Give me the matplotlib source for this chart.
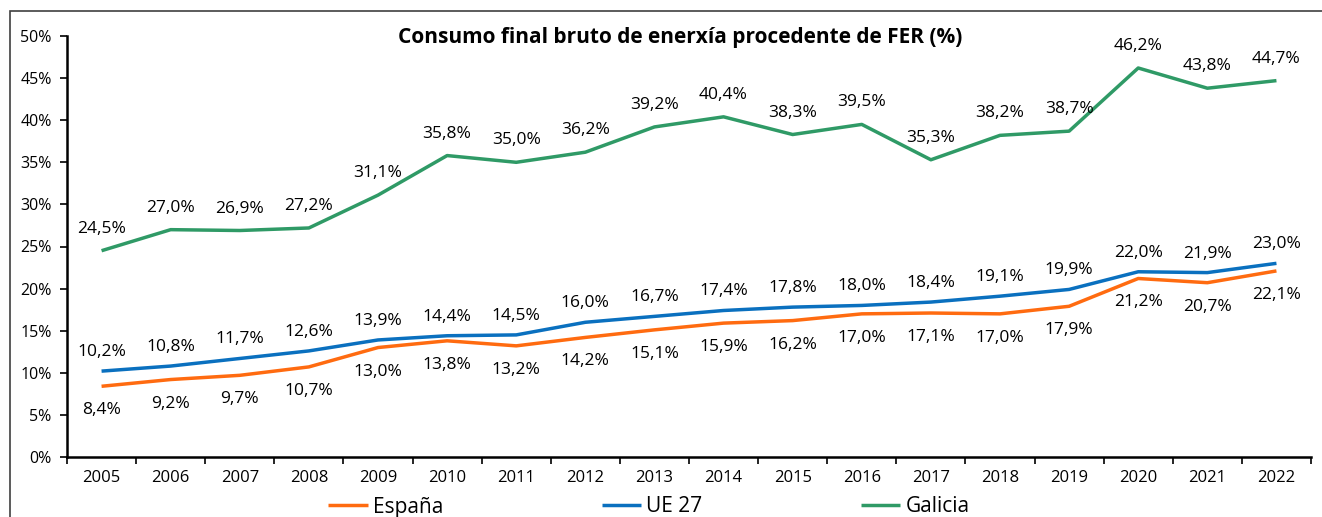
import matplotlib
matplotlib.use("Agg")
from matplotlib import pyplot as plt
from matplotlib.patches import Rectangle
import numpy as np

plt.rcParams['font.family'] = ['Open Sans', 'DejaVu Sans']

# ---- data ----
years = [str(y) for y in range(2005, 2023)]
espana = [8.4, 9.2, 9.7, 10.7, 13.0, 13.8, 13.2, 14.2, 15.1, 15.9,
          16.2, 17.0, 17.1, 17.0, 17.9, 21.2, 20.7, 22.1]
ue27 = [10.2, 10.8, 11.7, 12.6, 13.9, 14.4, 14.5, 16.0, 16.7, 17.4,
        17.8, 18.0, 18.4, 19.1, 19.9, 22.0, 21.9, 23.0]
galicia = [24.5, 27.0, 26.9, 27.2, 31.1, 35.8, 35.0, 36.2, 39.2, 40.4,
           38.3, 39.5, 35.3, 38.2, 38.7, 46.2, 43.8, 44.7]

c_esp = '#FF6B10'
c_ue = '#0A70BF'
c_gal = '#2F9A66'

W, H = 1322, 517
fig = plt.figure(figsize=(W / 100, H / 100), dpi=100)
ax = fig.add_axes([67 / W, 1 - 457 / H, (1311 - 67) / W, (457 - 36) / H])

x = np.arange(len(years))
ax.plot(x, espana, color=c_esp, lw=2.5, label='España', solid_capstyle='butt')
ax.plot(x, ue27, color=c_ue, lw=2.5, label='UE 27', solid_capstyle='butt')
ax.plot(x, galicia, color=c_gal, lw=2.5, label='Galicia', solid_capstyle='butt')

def fmt(v):
    return f"{v:.1f}%".replace('.', ',')

lab_size = 12.5
for i in x:
    ax.annotate(fmt(ue27[i]), (i, ue27[i]), xytext=(0, 19), textcoords='offset pixels',
                ha='center', va='center', fontsize=lab_size)
    ax.annotate(fmt(espana[i]), (i, espana[i]), xytext=(0, -24), textcoords='offset pixels',
                ha='center', va='center', fontsize=lab_size)
    ax.annotate(fmt(galicia[i]), (i, galicia[i]), xytext=(0, 22), textcoords='offset pixels',
                ha='center', va='center', fontsize=lab_size)

ax.set_xlim(-0.5, len(years) - 0.5)
ax.set_ylim(0, 50)
ax.set_yticks(np.arange(0, 51, 5))
ax.set_yticklabels([f"{v}%" for v in range(0, 51, 5)], fontsize=11.5)
ax.set_xticks(x)
ax.set_xticklabels(years, fontsize=12)
ax.tick_params(axis='x', which='major', length=0, pad=9)
ax.set_xticks(np.arange(-0.5, len(years)), minor=True)
ax.tick_params(axis='x', which='minor', length=5, width=1.2, direction='out')
ax.tick_params(axis='y', length=5, width=1.2, direction='out', pad=6)

for s in ['top', 'right']:
    ax.spines[s].set_visible(False)
for s in ['left', 'bottom']:
    ax.spines[s].set_linewidth(1.8)
    ax.spines[s].set_color('black')

fig.text(680 / W, 1 - 38 / H, 'Consumo final bruto de enerxía procedente de FER (%)',
         ha='center', va='center', fontsize=15, fontweight='bold')

fig.legend(loc='center', bbox_to_anchor=(649 / W, 1 - 507 / H), ncol=3, frameon=False,
           fontsize=15, handlelength=1.9, columnspacing=7.6, handletextpad=0.25)

# outer frame (cut by the image edge)
fig.patches.append(Rectangle((10 / W, -0.2), 2, 1.2 - 11 / H, transform=fig.transFigure,
                             fill=False, edgecolor='#404040', lw=1.2))

fig.savefig('out.png', dpi=100)
